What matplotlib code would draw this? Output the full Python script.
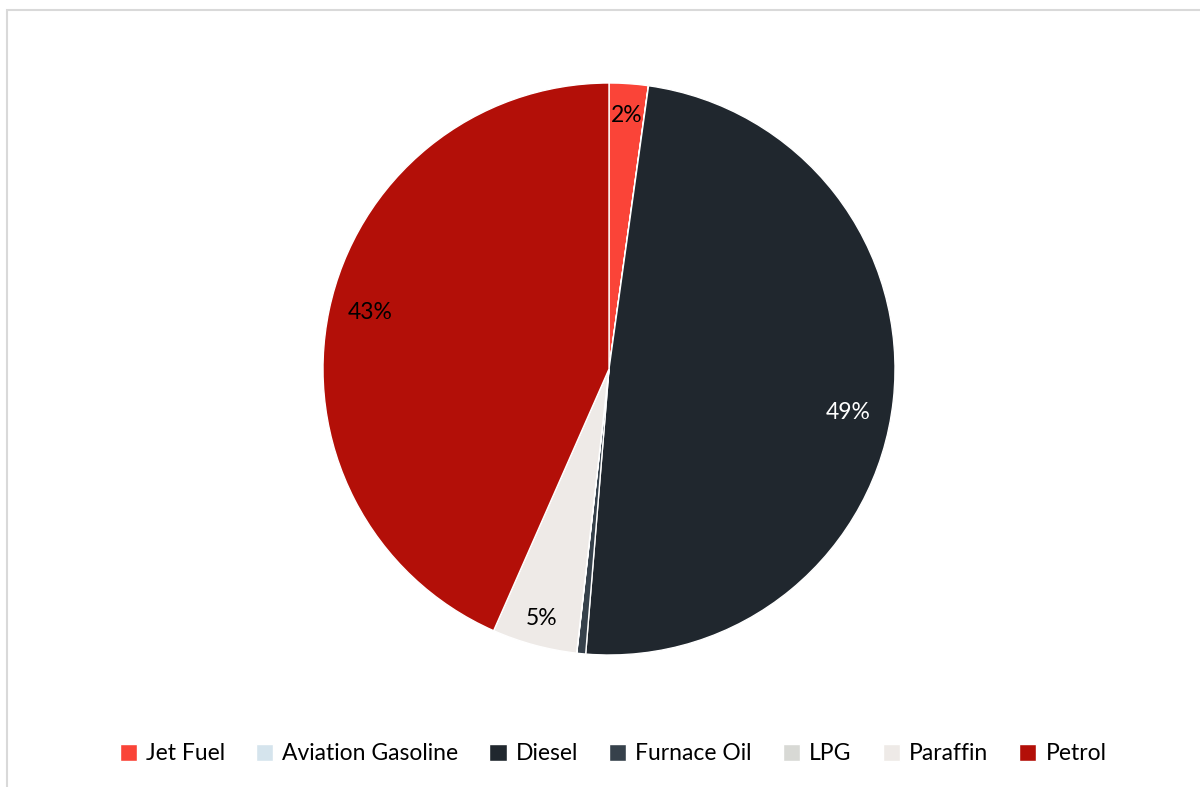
import matplotlib
matplotlib.use("Agg")
from matplotlib import pyplot as plt
from matplotlib.patches import Rectangle
import numpy as np

# Fuel share data
fuels = ["Jet Fuel", "Aviation Gasoline", "Diesel", "Furnace Oil", "LPG", "Paraffin", "Petrol"]
shares = [2.2, 0.01, 49.1, 0.5, 0.01, 4.8, 43.4]
colors = ["#fa4438", "#d5e4ed", "#20272e", "#36414b", "#d8d9d5", "#eeeae7", "#b30f08"]
label_colors = ["black", "black", "white", "black", "black", "black", "black"]
# label placement: fraction of radius and angular nudge (degrees)
label_dist = [0.89, 0.8, 0.85, 0.8, 0.8, 0.905, 0.86]
label_shift = [0, 0, -4, 0, 0, 0, -1.5]

plt.rcParams['font.family'] = ['Lato', 'DejaVu Sans']

fig = plt.figure(figsize=(12, 7.87), dpi=100)
W, H = 1200, 787
cx, cy, r = 609, 787 - 369, 286
ax = fig.add_axes([(cx - r) / W, (cy - r) / H, 2 * r / W, 2 * r / H])

wedges, texts, autotexts = ax.pie(
    shares, colors=colors, startangle=90, counterclock=False,
    autopct=lambda p: f"{p:.0f}%" if p >= 1 else "",
    wedgeprops=dict(edgecolor="white", linewidth=1),
    textprops=dict(fontsize=16.5),
)
for w, t, c, d, s in zip(wedges, autotexts, label_colors, label_dist, label_shift):
    mid = np.deg2rad((w.theta1 + w.theta2) / 2 + s)
    t.set_position((d * np.cos(mid), d * np.sin(mid)))
    t.set_color(c)
ax.set_xlim(-1, 1)
ax.set_ylim(-1, 1)

fig.legend(wedges, fuels, loc="center", bbox_to_anchor=(613 / W, 33 / H),
           ncol=7, frameon=False, fontsize=16.5, handlelength=0.75, handleheight=0.75,
           handletextpad=0.4, columnspacing=1.35)

# outer chart frame
fig.patches.append(Rectangle((7 / W, -0.1), 1.2, 1.1 - 10 / H, transform=fig.transFigure,
                             fill=False, edgecolor="#d9d9d9", linewidth=1.5))

fig.savefig("out.png", dpi=100)
